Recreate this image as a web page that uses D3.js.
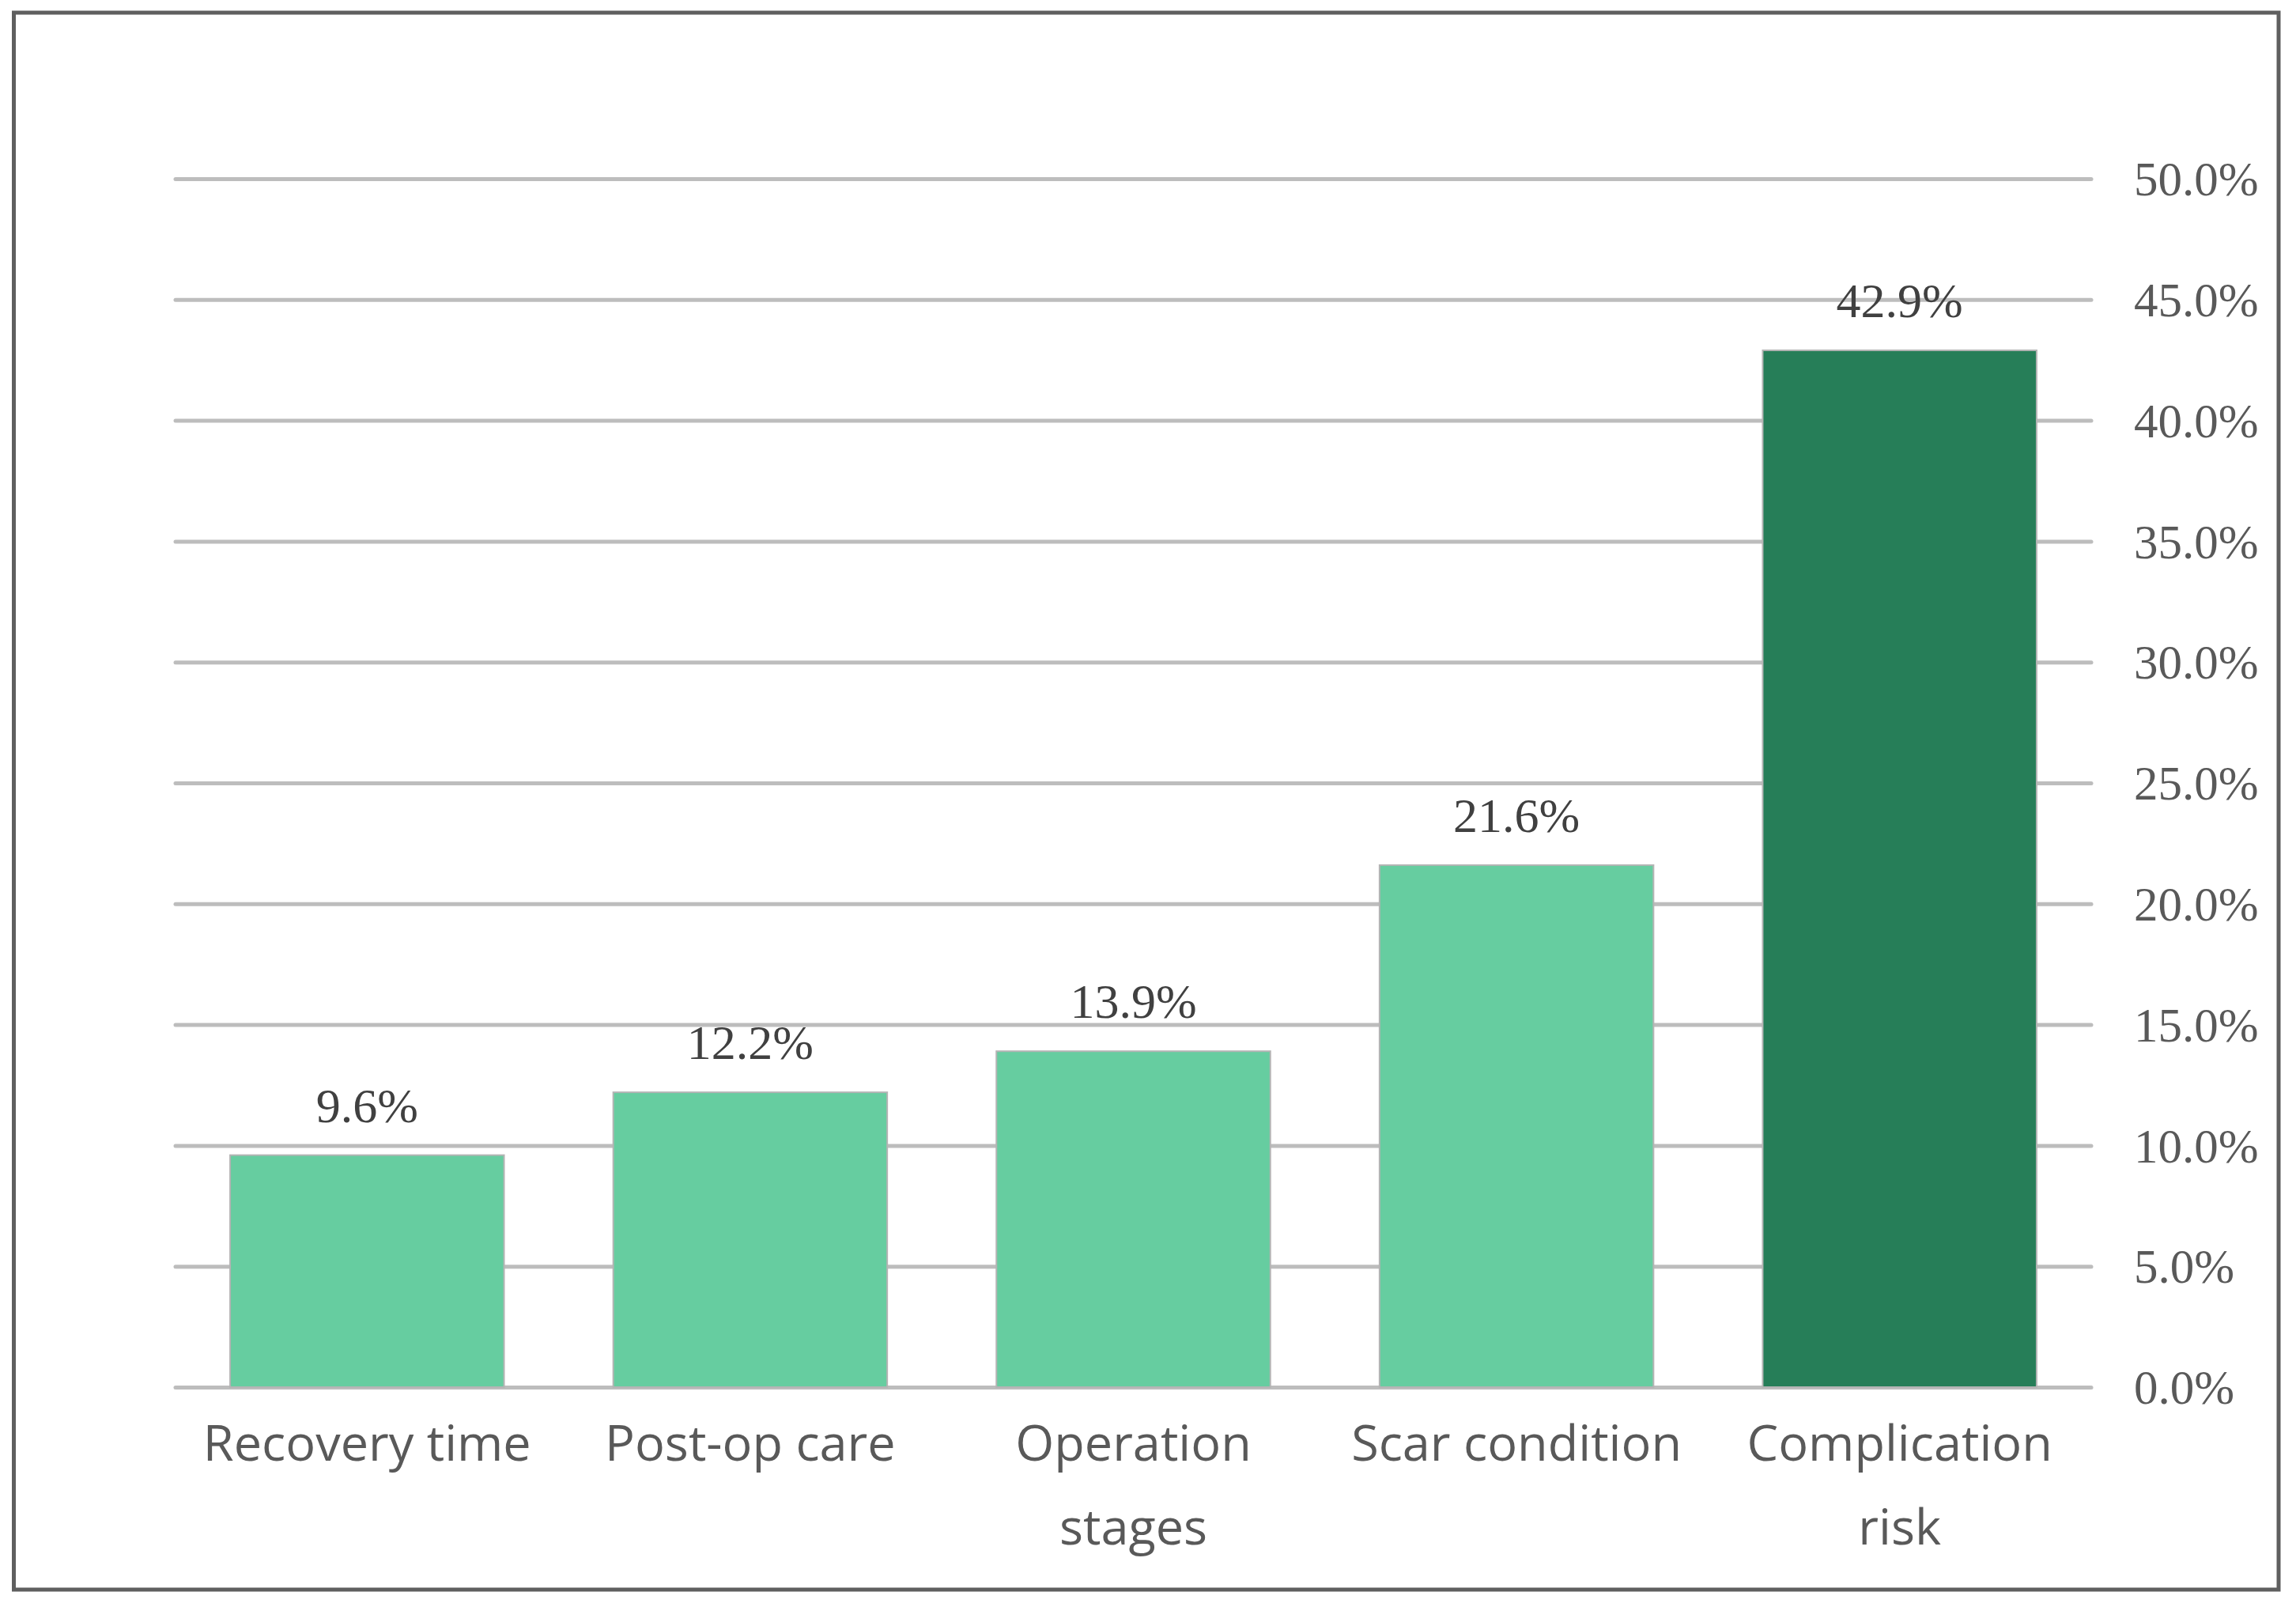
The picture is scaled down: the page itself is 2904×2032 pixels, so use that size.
<!DOCTYPE html>
<html>
<head>
<meta charset="utf-8">
<script src="https://cdn.jsdelivr.net/npm/d3@7"></script>
<style>
  html, body { margin: 0; padding: 0; background: #ffffff; }
  svg { display: block; }
</style>
</head>
<body>
<svg id="chart" width="2904" height="2032"></svg>
<script>
// ---- data ----
const categories = ["Recovery time", "Post-op care", "Operation stages", "Scar condition", "Complication risk"];
const labelLines = [["Recovery time"], ["Post-op care"], ["Operation", "stages"], ["Scar condition"], ["Complication", "risk"]];
const values = [9.6, 12.2, 13.9, 21.6, 42.9];
const highlight = [false, false, false, false, true];
const yTicks = [0, 5, 10, 15, 20, 25, 30, 35, 40, 45, 50];

// ---- layout ----
const W = 2904, H = 2032;
const plot = { left: 222, right: 2645, top: 226, bottom: 1754 };

const svg = d3.select("#chart");
svg.append("rect").attr("x", 0).attr("y", 0).attr("width", W).attr("height", H).attr("fill", "#ffffff");

const x = d3.scaleBand()
  .domain(categories)
  .range([plot.left, plot.right])
  .paddingInner(0.285)
  .paddingOuter(0.1425);

const y = d3.scaleLinear().domain([0, 50]).range([plot.bottom, plot.top]);

// gridlines + right tick labels
const axis = d3.axisRight(y)
  .tickValues(yTicks)
  .tickSize(plot.right - plot.left)
  .tickPadding(54)
  .tickFormat(d => d3.format(".1f")(d) + "%");

const gAxis = svg.append("g")
  .attr("transform", `translate(${plot.left},0)`)
  .call(axis);
gAxis.select(".domain").remove();
gAxis.selectAll(".tick line")
  .attr("stroke", "#bdbdbd")
  .attr("stroke-width", 5)
  .attr("stroke-linecap", "round");
gAxis.selectAll(".tick text")
  .attr("fill", "#595959")
  .attr("font-family", "'Liberation Serif', 'Times New Roman', serif")
  .attr("font-size", 61)
  .attr("dy", "0.34em");

// bars
svg.append("g").selectAll("rect")
  .data(values)
  .join("rect")
  .attr("x", (d, i) => x(categories[i]))
  .attr("y", d => y(d))
  .attr("width", x.bandwidth())
  .attr("height", d => y(0) - y(d))
  .attr("fill", (d, i) => highlight[i] ? "#267E58" : "#66CDA0")
  .attr("stroke", "#b4b4b4")
  .attr("stroke-width", 2);

// value labels
svg.append("g").selectAll("text")
  .data(values)
  .join("text")
  .attr("x", (d, i) => x(categories[i]) + x.bandwidth() / 2)
  .attr("y", d => y(d) - 42)
  .attr("text-anchor", "middle")
  .attr("fill", "#404040")
  .attr("font-family", "'Liberation Serif', 'Times New Roman', serif")
  .attr("font-size", 62)
  .text(d => d.toFixed(1) + "%");

// category labels
const gx = svg.append("g");
categories.forEach((c, i) => {
  const cx = x(c) + x.bandwidth() / 2;
  const t = gx.append("text")
    .attr("text-anchor", "middle")
    .attr("fill", "#595959")
    .attr("font-family", "'Open Sans', 'Noto Sans', sans-serif")
    .attr("font-size", 63);
  labelLines[i].forEach((line, j) => {
    t.append("tspan").attr("x", cx).attr("y", 1847 + j * 106).text(line);
  });
});

// outer border
svg.append("rect")
  .attr("x", 17.5).attr("y", 16)
  .attr("width", 2882 - 17.5).attr("height", 2010 - 16)
  .attr("fill", "none")
  .attr("stroke", "#5f5f5f")
  .attr("stroke-width", 5);
</script>
</body>
</html>
